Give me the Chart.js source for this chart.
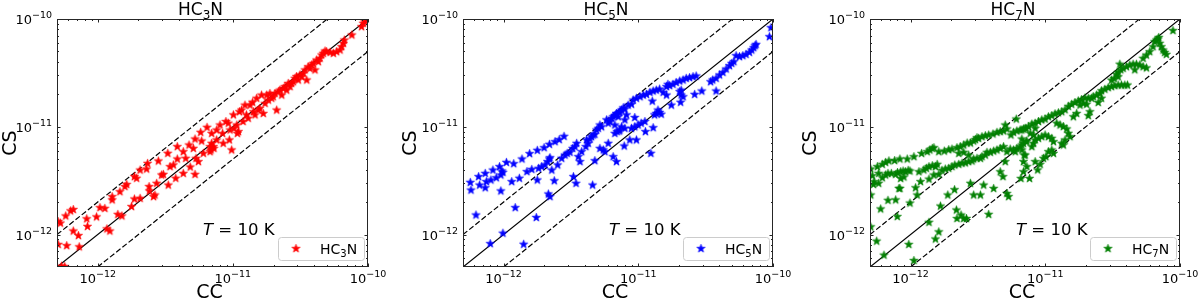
<!DOCTYPE html>
<html>
<head>
<meta charset="utf-8">
<script src="https://cdn.jsdelivr.net/npm/chart.js@4.4.1/dist/chart.umd.min.js"></script>
<style>
  body { margin: 0; background: #fff; }
  #wrap { position: relative; width: 1200px; height: 300px; }
  canvas { position: absolute; top: 0; }
</style>
</head>
<body>
<div id="wrap">
  <canvas id="c1" width="400" height="300" style="left:0px"></canvas>
  <canvas id="c2" width="400" height="300" style="left:400px"></canvas>
  <canvas id="c3" width="400" height="300" style="left:800px"></canvas>
</div>
<script>
// axis range and tick labels (both axes share them)
const AXIS_MIN = 5e-13;
const AXIS_MAX = 1e-10;
const MAJOR_TICKS = [1e-12, 1e-11, 1e-10];
const MAJOR_EXPONENTS = ['\u221212', '\u221211', '\u221210'];

// reference lines: 1:1 and factor-of-two bands
const ONE_TO_ONE = [[5e-13, 5e-13], [1e-10, 1e-10]];
const TWICE = [[5e-13, 1e-12], [5e-11, 1e-10]];
const HALF = [[1e-12, 5e-13], [1e-10, 5e-11]];

// [CC, CS] pairs
const hc3nPoints = [
  [0.51e-12, 1.32e-12], [0.53e-12, 1.28e-12], [0.51e-12, 0.81e-12], [0.57e-12, 0.505e-12], [0.54e-12, 0.51e-12],
  [0.59e-12, 0.79e-12], [0.58e-12, 1.49e-12], [0.63e-12, 1.66e-12], [0.66e-12, 1.71e-12], [0.66e-12, 1.08e-12],
  [0.72e-12, 0.98e-12], [0.73e-12, 0.77e-12], [0.83e-12, 1.40e-12], [0.84e-12, 1.19e-12], [0.98e-12, 1.46e-12],
  [1.04e-12, 1.78e-12], [1.13e-12, 1.75e-12], [1.17e-12, 1.13e-12], [1.23e-12, 1.08e-12], [1.28e-12, 2.25e-12],
  [1.28e-12, 2.10e-12], [1.41e-12, 1.54e-12], [1.51e-12, 1.49e-12], [1.46e-12, 2.50e-12], [1.59e-12, 2.79e-12],
  [1.64e-12, 2.92e-12], [1.78e-12, 1.82e-12], [1.87e-12, 2.14e-12], [1.87e-12, 3.45e-12], [1.94e-12, 3.33e-12],
  [2.06e-12, 2.17e-12], [2.06e-12, 3.97e-12], [2.30e-12, 4.06e-12], [2.34e-12, 4.58e-12], [2.40e-12, 2.79e-12],
  [2.41e-12, 2.54e-12], [2.59e-12, 2.25e-12], [2.65e-12, 2.33e-12], [2.73e-12, 2.99e-12], [2.81e-12, 4.82e-12],
  [2.97e-12, 3.57e-12], [3.06e-12, 3.62e-12], [3.30e-12, 5.68e-12], [3.33e-12, 2.88e-12], [3.43e-12, 4.27e-12],
  [3.63e-12, 4.43e-12], [3.78e-12, 3.33e-12], [3.88e-12, 5.03e-12], [3.88e-12, 6.55e-12], [4.30e-12, 3.70e-12],
  [4.30e-12, 5.88e-12], [4.48e-12, 5.10e-12], [4.74e-12, 6.78e-12], [4.84e-12, 4.24e-12], [5.10e-12, 6.31e-12],
  [5.25e-12, 3.62e-12], [5.34e-12, 5.10e-12], [5.56e-12, 4.75e-12], [5.25e-12, 7.71e-12], [5.78e-12, 8.89e-12],
  [5.88e-12, 7.38e-12], [6.05e-12, 5.68e-12], [6.44e-12, 9.89e-12], [6.78e-12, 6.55e-12], [6.89e-12, 6.10e-12],
  [6.97e-12, 8.69e-12], [7.18e-12, 6.55e-12], [6.97e-12, 7.03e-12], [7.24e-12, 6.31e-12], [6.78e-12, 5.88e-12],
  [7.59e-12, 9.34e-12], [7.59e-12, 7.55e-12], [8.03e-12, 10.4e-12], [8.40e-12, 8.69e-12], [8.49e-12, 7.03e-12],
  [8.89e-12, 11.2e-12], [9.25e-12, 10.8e-12], [9.42e-12, 7.55e-12], [9.53e-12, 9.34e-12], [9.80e-12, 6.10e-12],
  [10.1e-12, 12.9e-12], [10.2e-12, 9.68e-12], [10.7e-12, 10.4e-12], [10.8e-12, 8.69e-12], [11.2e-12, 13.8e-12],
  [11.0e-12, 9.02e-12], [11.6e-12, 14.3e-12], [11.9e-12, 11.2e-12], [12.3e-12, 15.9e-12], [12.6e-12, 12.9e-12],
  [13.0e-12, 12.0e-12], [13.4e-12, 15.9e-12], [14.0e-12, 16.9e-12], [14.2e-12, 13.8e-12], [14.6e-12, 12.9e-12],
  [15.0e-12, 18.4e-12], [15.4e-12, 14.3e-12], [15.8e-12, 14.8e-12], [16.3e-12, 19.7e-12], [16.8e-12, 13.3e-12],
  [17.3e-12, 16.5e-12], [17.8e-12, 19.7e-12], [18.3e-12, 17.7e-12], [18.8e-12, 20.4e-12], [19.4e-12, 18.4e-12],
  [19.9e-12, 19.0e-12], [21.1e-12, 14.3e-12], [20.5e-12, 20.4e-12], [21.7e-12, 21.2e-12], [22.3e-12, 21.9e-12],
  [23.0e-12, 19.7e-12], [23.6e-12, 22.7e-12], [24.3e-12, 23.6e-12], [25.0e-12, 21.9e-12], [25.7e-12, 25.3e-12],
  [26.5e-12, 23.6e-12], [27.2e-12, 25.3e-12], [28.0e-12, 26.2e-12], [28.8e-12, 28.2e-12], [29.6e-12, 29.2e-12],
  [30.5e-12, 27.2e-12], [31.4e-12, 30.3e-12], [32.3e-12, 29.2e-12], [33.2e-12, 31.3e-12], [34.2e-12, 33.7e-12],
  [35.2e-12, 27.2e-12], [36.1e-12, 36.1e-12], [37.2e-12, 34.8e-12], [38.3e-12, 37.5e-12], [39.4e-12, 38.8e-12],
  [40.5e-12, 33.7e-12], [41.7e-12, 41.7e-12], [42.9e-12, 40.2e-12], [44.1e-12, 43.2e-12], [45.4e-12, 46.4e-12],
  [46.7e-12, 48.1e-12], [48.1e-12, 50.5e-12], [49.4e-12, 49.8e-12], [52.4e-12, 49.1e-12], [55.4e-12, 48.1e-12],
  [58.6e-12, 49.8e-12], [62.1e-12, 51.6e-12], [63.8e-12, 55.4e-12], [65.8e-12, 59.5e-12], [66.8e-12, 63.8e-12],
  [75.9e-12, 71.1e-12], [89.6e-12, 84.9e-12], [92.3e-12, 91.2e-12], [94.8e-12, 94.4e-12]
];

const hc5nPoints = [
  [0.566e-12, 3.05e-12], [0.573e-12, 2.59e-12], [0.624e-12, 1.52e-12], [0.653e-12, 3.45e-12], [0.664e-12, 2.88e-12],
  [0.731e-12, 3.70e-12], [0.745e-12, 3.10e-12], [0.731e-12, 2.72e-12], [0.806e-12, 3.21e-12], [0.834e-12, 3.97e-12],
  [0.883e-12, 3.37e-12], [0.934e-12, 4.27e-12], [0.955e-12, 3.57e-12], [0.972e-12, 3.89e-12], [0.989e-12, 3.78e-12],
  [0.955e-12, 2.54e-12], [0.989e-12, 1.03e-12], [0.796e-12, 0.824e-12], [1.05e-12, 4.68e-12], [1.15e-12, 3.10e-12],
  [1.19e-12, 4.55e-12], [1.22e-12, 1.78e-12], [1.31e-12, 3.33e-12], [1.37e-12, 5.03e-12], [1.49e-12, 3.84e-12],
  [1.56e-12, 5.64e-12], [1.62e-12, 4.03e-12], [1.75e-12, 1.44e-12], [1.78e-12, 6.05e-12], [1.78e-12, 3.21e-12],
  [1.82e-12, 4.12e-12], [1.92e-12, 4.27e-12], [2.00e-12, 6.40e-12], [2.03e-12, 4.43e-12], [2.12e-12, 4.75e-12],
  [2.19e-12, 5.03e-12], [2.21e-12, 5.17e-12], [2.15e-12, 2.38e-12], [2.21e-12, 2.25e-12], [2.19e-12, 6.88e-12],
  [2.28e-12, 3.97e-12], [2.38e-12, 3.16e-12], [2.41e-12, 7.28e-12], [2.52e-12, 4.43e-12], [2.59e-12, 7.60e-12],
  [2.81e-12, 8.16e-12], [2.70e-12, 5.10e-12], [2.86e-12, 5.47e-12], [2.97e-12, 5.68e-12], [3.11e-12, 5.80e-12],
  [3.26e-12, 6.31e-12], [3.39e-12, 6.55e-12], [3.49e-12, 7.03e-12], [3.30e-12, 3.45e-12], [3.45e-12, 2.99e-12],
  [3.59e-12, 5.28e-12], [3.69e-12, 4.75e-12], [3.80e-12, 5.88e-12], [4.08e-12, 6.55e-12], [4.25e-12, 7.03e-12],
  [4.38e-12, 7.71e-12], [4.13e-12, 7.55e-12], [4.58e-12, 2.88e-12], [4.50e-12, 8.10e-12], [4.63e-12, 8.39e-12],
  [4.76e-12, 8.51e-12], [4.90e-12, 9.34e-12], [5.05e-12, 9.68e-12], [5.19e-12, 10.4e-12], [5.34e-12, 10.0e-12],
  [4.76e-12, 4.85e-12], [5.19e-12, 6.31e-12], [5.50e-12, 6.10e-12], [5.65e-12, 5.88e-12], [5.81e-12, 11.6e-12],
  [5.98e-12, 10.8e-12], [6.15e-12, 11.2e-12], [6.33e-12, 12.0e-12], [6.51e-12, 12.4e-12], [6.70e-12, 12.7e-12],
  [6.89e-12, 13.1e-12], [7.21e-12, 13.6e-12], [5.98e-12, 7.03e-12], [6.51e-12, 5.28e-12], [6.89e-12, 4.75e-12],
  [6.70e-12, 8.69e-12], [6.97e-12, 9.02e-12], [7.21e-12, 9.14e-12], [1.41e-12, 0.813e-12],
  [6.90e-12, 13.3e-12], [7.10e-12, 12.4e-12], [7.30e-12, 13.8e-12], [7.51e-12, 14.3e-12], [7.95e-12, 14.6e-12],
  [8.18e-12, 12.9e-12], [6.70e-12, 10.4e-12], [7.30e-12, 9.34e-12], [7.51e-12, 10.0e-12], [7.95e-12, 9.68e-12],
  [7.73e-12, 15.0e-12], [8.41e-12, 15.9e-12], [8.90e-12, 16.2e-12], [7.95e-12, 11.6e-12], [8.65e-12, 7.55e-12],
  [7.86e-12, 6.64e-12], [9.69e-12, 7.55e-12], [9.16e-12, 17.7e-12], [9.69e-12, 18.4e-12], [10.3e-12, 19.0e-12],
  [10.9e-12, 19.7e-12], [11.5e-12, 20.0e-12], [12.2e-12, 20.9e-12], [12.9e-12, 21.5e-12], [13.6e-12, 21.9e-12],
  [14.4e-12, 22.4e-12], [8.90e-12, 9.68e-12], [9.42e-12, 10.0e-12], [9.97e-12, 10.4e-12], [10.5e-12, 10.8e-12],
  [11.2e-12, 11.2e-12], [9.42e-12, 12.2e-12], [11.3e-12, 9.02e-12], [12.4e-12, 5.68e-12], [12.7e-12, 17.3e-12],
  [12.9e-12, 9.82e-12], [13.2e-12, 12.9e-12], [13.6e-12, 13.3e-12], [14.0e-12, 14.3e-12], [14.4e-12, 13.6e-12],
  [14.8e-12, 13.1e-12], [15.3e-12, 20.9e-12], [16.2e-12, 23.6e-12], [16.6e-12, 24.8e-12], [17.1e-12, 24.1e-12],
  [18.1e-12, 24.8e-12], [19.1e-12, 25.8e-12], [20.3e-12, 26.6e-12], [21.5e-12, 27.2e-12], [22.7e-12, 28.2e-12],
  [24.0e-12, 28.6e-12], [25.5e-12, 29.2e-12], [26.9e-12, 29.6e-12], [17.6e-12, 15.9e-12], [16.2e-12, 19.7e-12],
  [20.3e-12, 21.2e-12], [20.8e-12, 19.7e-12], [21.5e-12, 19.0e-12], [20.6e-12, 16.9e-12], [20.8e-12, 21.9e-12],
  [26.2e-12, 20.0e-12], [29.6e-12, 21.5e-12], [34.4e-12, 26.2e-12], [35.7e-12, 27.2e-12], [37.8e-12, 28.2e-12],
  [40.1e-12, 30.3e-12], [42.5e-12, 32.0e-12], [44.9e-12, 34.4e-12], [47.5e-12, 36.9e-12], [49.4e-12, 38.8e-12],
  [51.2e-12, 40.2e-12], [37.8e-12, 21.5e-12], [53.2e-12, 45.7e-12], [56.4e-12, 44.8e-12], [59.7e-12, 45.7e-12],
  [63.1e-12, 47.0e-12], [66.8e-12, 49.1e-12], [69.5e-12, 51.6e-12], [71.9e-12, 54.2e-12], [73.6e-12, 56.6e-12],
  [74.8e-12, 58.2e-12], [96.6e-12, 83.1e-12], [94.0e-12, 68.6e-12]
];

const hc7nPoints = [
  [0.506e-12, 4.06e-12], [0.567e-12, 4.27e-12], [0.617e-12, 4.49e-12], [0.653e-12, 4.68e-12], [0.691e-12, 4.83e-12],
  [0.761e-12, 4.86e-12], [0.834e-12, 5.03e-12], [0.945e-12, 5.03e-12], [1.059e-12, 5.28e-12], [1.207e-12, 5.66e-12],
  [1.328e-12, 5.88e-12], [1.39e-12, 6.09e-12], [1.45e-12, 6.31e-12], [1.49e-12, 6.40e-12],
  [0.52e-12, 3.52e-12], [0.53e-12, 2.92e-12], [0.58e-12, 3.70e-12], [0.617e-12, 3.37e-12], [0.653e-12, 3.57e-12],
  [0.68e-12, 3.70e-12], [0.72e-12, 3.70e-12], [0.775e-12, 3.62e-12], [0.80e-12, 3.77e-12], [0.844e-12, 3.83e-12],
  [0.88e-12, 3.89e-12], [0.916e-12, 3.83e-12], [0.96e-12, 3.95e-12], [0.99e-12, 3.89e-12], [0.536e-12, 3.10e-12],
  [0.58e-12, 2.99e-12], [0.844e-12, 3.32e-12], [0.893e-12, 3.42e-12], [0.82e-12, 2.68e-12],
  [1.153e-12, 3.83e-12], [1.255e-12, 3.98e-12], [1.31e-12, 4.12e-12], [1.37e-12, 4.27e-12], [1.45e-12, 4.36e-12],
  [1.53e-12, 4.27e-12], [1.575e-12, 4.49e-12], [1.186e-12, 3.10e-12], [1.37e-12, 3.27e-12], [1.488e-12, 3.57e-12],
  [1.62e-12, 3.62e-12],
  [1.62e-12, 5.88e-12], [1.78e-12, 5.96e-12], [1.92e-12, 6.13e-12], [2.03e-12, 6.22e-12], [2.21e-12, 6.40e-12],
  [2.34e-12, 6.54e-12], [2.48e-12, 6.78e-12], [2.63e-12, 7.08e-12], [2.78e-12, 7.08e-12], [2.94e-12, 7.38e-12],
  [3.03e-12, 7.60e-12], [3.11e-12, 7.93e-12], [3.20e-12, 7.82e-12], [3.39e-12, 8.10e-12], [3.59e-12, 8.27e-12],
  [3.80e-12, 8.40e-12], [4.09e-12, 8.58e-12], [4.38e-12, 8.89e-12], [4.63e-12, 9.02e-12], [4.90e-12, 9.15e-12],
  [5.19e-12, 9.55e-12], [5.56e-12, 8.40e-12], [5.81e-12, 8.89e-12], [6.15e-12, 9.15e-12], [6.51e-12, 9.35e-12],
  [6.89e-12, 9.55e-12], [7.21e-12, 9.69e-12], [5.04e-12, 10.4e-12], [6.09e-12, 11.8e-12],
  [1.71e-12, 3.95e-12], [1.81e-12, 4.06e-12], [1.92e-12, 4.12e-12], [2.03e-12, 4.27e-12], [2.13e-12, 4.42e-12],
  [2.28e-12, 4.49e-12], [2.41e-12, 4.60e-12], [2.55e-12, 4.63e-12], [2.70e-12, 4.75e-12], [2.86e-12, 4.82e-12],
  [2.94e-12, 5.03e-12], [3.11e-12, 5.10e-12], [3.30e-12, 5.10e-12], [3.39e-12, 5.28e-12], [3.59e-12, 5.47e-12],
  [3.69e-12, 5.80e-12], [3.91e-12, 5.80e-12], [4.14e-12, 5.96e-12], [4.38e-12, 6.09e-12], [4.63e-12, 6.31e-12],
  [4.90e-12, 6.54e-12], [5.19e-12, 5.88e-12], [5.49e-12, 6.22e-12], [5.81e-12, 6.09e-12], [6.15e-12, 6.31e-12],
  [6.51e-12, 6.54e-12], [6.70e-12, 6.78e-12], [6.89e-12, 7.03e-12], [7.21e-12, 7.28e-12], [2.48e-12, 5.80e-12],
  [2.70e-12, 5.47e-12], [2.28e-12, 5.67e-12],
  [0.506e-12, 2.33e-12], [0.60e-12, 1.73e-12], [0.68e-12, 2.08e-12], [0.775e-12, 2.10e-12], [0.797e-12, 1.47e-12],
  [0.834e-12, 2.68e-12], [0.99e-12, 1.96e-12], [1.09e-12, 2.72e-12], [1.12e-12, 2.33e-12], [1.667e-12, 1.84e-12],
  [1.89e-12, 2.33e-12], [2.12e-12, 2.61e-12], [2.19e-12, 1.69e-12], [2.21e-12, 1.41e-12], [2.37e-12, 1.52e-12],
  [2.48e-12, 1.41e-12], [2.60e-12, 1.41e-12], [2.78e-12, 2.99e-12], [2.94e-12, 2.33e-12], [3.30e-12, 2.33e-12],
  [3.49e-12, 2.88e-12], [3.80e-12, 1.54e-12], [4.14e-12, 2.68e-12], [4.85e-12, 3.45e-12], [4.63e-12, 3.83e-12],
  [5.04e-12, 4.75e-12], [5.19e-12, 2.41e-12], [5.34e-12, 2.25e-12], [5.98e-12, 5.88e-12], [6.59e-12, 3.32e-12],
  [6.89e-12, 3.83e-12], [6.97e-12, 5.47e-12], [0.506e-12, 1.18e-12], [0.56e-12, 0.87e-12], [0.635e-12, 0.645e-12],
  [0.97e-12, 0.81e-12], [1.059e-12, 0.575e-12], [1.37e-12, 1.30e-12], [1.53e-12, 0.91e-12], [1.62e-12, 1.06e-12],
  [6.70e-12, 9.35e-12], [7.09e-12, 9.69e-12], [7.51e-12, 10.05e-12], [7.95e-12, 10.6e-12], [8.41e-12, 10.8e-12],
  [8.90e-12, 11.2e-12], [9.42e-12, 11.6e-12], [9.97e-12, 11.8e-12], [10.55e-12, 12.4e-12], [11.17e-12, 12.7e-12],
  [11.82e-12, 13.2e-12], [12.51e-12, 13.5e-12], [13.24e-12, 13.8e-12], [14.01e-12, 14.4e-12], [14.83e-12, 15.5e-12],
  [15.70e-12, 16.2e-12], [16.61e-12, 16.8e-12], [17.58e-12, 17.4e-12], [18.61e-12, 17.9e-12], [19.70e-12, 18.5e-12],
  [20.85e-12, 18.4e-12], [22.07e-12, 18.4e-12],
  [6.70e-12, 7.71e-12], [7.30e-12, 7.38e-12], [7.73e-12, 8.70e-12], [8.18e-12, 8.40e-12], [8.41e-12, 9.69e-12],
  [6.70e-12, 6.09e-12], [7.09e-12, 5.47e-12], [6.89e-12, 4.75e-12], [7.30e-12, 4.27e-12], [7.64e-12, 3.32e-12],
  [8.41e-12, 4.75e-12], [8.78e-12, 3.98e-12], [9.16e-12, 4.49e-12], [9.69e-12, 5.10e-12], [10.1e-12, 5.28e-12],
  [10.55e-12, 5.88e-12], [11.17e-12, 6.09e-12], [11.5e-12, 5.67e-12], [7.95e-12, 6.54e-12], [8.18e-12, 7.03e-12],
  [8.41e-12, 7.55e-12], [8.90e-12, 7.82e-12], [9.42e-12, 8.10e-12], [9.97e-12, 8.40e-12], [10.55e-12, 8.10e-12],
  [11.17e-12, 7.82e-12], [11.5e-12, 7.28e-12], [12.16e-12, 10.8e-12], [12.87e-12, 10.4e-12], [13.62e-12, 10.05e-12],
  [14.42e-12, 9.55e-12], [14.83e-12, 8.70e-12], [15.26e-12, 8.10e-12], [14.01e-12, 7.55e-12], [13.62e-12, 6.78e-12],
  [13.24e-12, 7.03e-12], [16.15e-12, 12.4e-12], [17.09e-12, 13.3e-12], [18.09e-12, 15.9e-12], [19.15e-12, 16.5e-12],
  [20.27e-12, 16.2e-12], [20.85e-12, 12.7e-12], [21.45e-12, 13.8e-12],
  [22.71e-12, 19.0e-12], [24.04e-12, 19.7e-12], [25.43e-12, 20.4e-12], [26.16e-12, 21.6e-12], [27.69e-12, 22.3e-12],
  [29.31e-12, 23.1e-12], [31.02e-12, 23.6e-12], [32.84e-12, 24.1e-12], [34.75e-12, 24.4e-12], [36.78e-12, 24.4e-12],
  [38.93e-12, 24.4e-12], [40.74e-12, 24.4e-12], [24.72e-12, 16.8e-12], [26.16e-12, 18.4e-12],
  [31.02e-12, 27.1e-12], [32.46e-12, 28.1e-12], [33.79e-12, 30.7e-12], [34.75e-12, 32.0e-12], [36.36e-12, 33.8e-12],
  [37.83e-12, 34.9e-12], [40.05e-12, 36.1e-12], [42.40e-12, 37.4e-12], [44.87e-12, 38.1e-12], [47.49e-12, 38.1e-12],
  [50.26e-12, 37.4e-12], [53.2e-12, 36.1e-12], [56.3e-12, 35.2e-12], [35.75e-12, 38.1e-12], [34.75e-12, 29.1e-12],
  [46.16e-12, 33.8e-12], [53.2e-12, 43.2e-12], [56.3e-12, 46.3e-12], [59.6e-12, 49.8e-12], [63.1e-12, 55.3e-12],
  [64.89e-12, 61.6e-12], [66.8e-12, 63.8e-12], [68.69e-12, 65.2e-12], [70.7e-12, 59.5e-12], [72.7e-12, 55.3e-12],
  [74.8e-12, 51.5e-12], [76.95e-12, 49.0e-12], [79.2e-12, 47.0e-12], [69.5e-12, 67.5e-12], [88.7e-12, 78.2e-12]
];

const FONT = '"DejaVu Sans", sans-serif';
const INK = '#262626';

// each subplot: species name pieces, colour and where its frame sits in the canvas
const PANELS = [
  { id: 'c1', name: ['HC', '3', 'N'], color: '#ff0000', points: hc3nPoints, yAxisWidth: 57, padRight: 32 },
  { id: 'c2', name: ['HC', '5', 'N'], color: '#0000ff', points: hc5nPoints, yAxisWidth: 63, padRight: 27 },
  { id: 'c3', name: ['HC', '7', 'N'], color: '#008000', points: hc7nPoints, yAxisWidth: 70, padRight: 20 }
];

// filled five-point star like matplotlib's '*'
function starImage(color) {
  const c = document.createElement('canvas');
  c.width = 11; c.height = 11;
  const g = c.getContext('2d');
  g.beginPath();
  for (let i = 0; i < 10; i++) {
    const r = i % 2 === 0 ? 4.4 : 1.8;
    const a = -Math.PI / 2 + i * Math.PI / 5;
    const px = 5.5 + r * Math.cos(a), py = 5.6 + r * Math.sin(a);
    if (i === 0) g.moveTo(px, py); else g.lineTo(px, py);
  }
  g.closePath();
  g.fillStyle = color;
  g.fill();
  g.strokeStyle = color;
  g.lineWidth = 0.6;
  g.stroke();
  return c;
}

// draw pieces of text one after another (for sub/superscripts)
function drawRich(ctx, parts, x, y, align) {
  let w = 0;
  parts.forEach(p => { ctx.font = p.font; w += ctx.measureText(p.text).width; });
  let cx = align === 'center' ? x - w / 2 : align === 'right' ? x - w : x;
  parts.forEach(p => {
    ctx.font = p.font;
    ctx.fillText(p.text, cx, y + (p.dy || 0));
    cx += ctx.measureText(p.text).width;
  });
}

function powerLabel(exp) {
  return [
    { text: '10', font: '13px ' + FONT },
    { text: exp, font: '9.5px ' + FONT, dy: -6 }
  ];
}

function speciesLabel(name, size) {
  return [
    { text: name[0], font: size + 'px ' + FONT },
    { text: name[1], font: Math.round(size * 0.7) + 'px ' + FONT, dy: size * 0.22 },
    { text: name[2], font: size + 'px ' + FONT }
  ];
}

const MINOR_TICKS = [];
[1e-13, 1e-12, 1e-11].forEach(d => {
  for (let m = 2; m <= 9; m++) {
    const v = m * d;
    if (v > AXIS_MIN * 1.001 && v < AXIS_MAX) MINOR_TICKS.push(v);
  }
});

const panelDecor = {
  id: 'panelDecor',
  afterDatasetsDraw(chart, args, opts) {
    const ctx = chart.ctx;
    const a = chart.chartArea;
    const xs = chart.scales.x, ys = chart.scales.y;
    ctx.save();
    ctx.strokeStyle = INK;
    ctx.fillStyle = INK;
    ctx.lineWidth = 1;

    // frame
    ctx.strokeRect(a.left + 0.5, a.top + 0.5, a.right - a.left - 1, a.bottom - a.top - 1);

    // inward ticks on all four sides
    const tick = (v, len) => {
      const px = Math.round(xs.getPixelForValue(v)) + 0.5;
      const py = Math.round(ys.getPixelForValue(v)) + 0.5;
      ctx.beginPath();
      ctx.moveTo(px, a.bottom); ctx.lineTo(px, a.bottom - len);
      ctx.moveTo(px, a.top); ctx.lineTo(px, a.top + len);
      ctx.moveTo(a.left, py); ctx.lineTo(a.left + len, py);
      ctx.moveTo(a.right, py); ctx.lineTo(a.right - len, py);
      ctx.stroke();
    };
    MAJOR_TICKS.forEach(v => tick(v, 3.5));
    MINOR_TICKS.forEach(v => tick(v, 2));

    // tick labels
    ctx.fillStyle = '#000';
    ctx.textAlign = 'left';
    ctx.textBaseline = 'alphabetic';
    MAJOR_TICKS.forEach((v, i) => {
      const px = xs.getPixelForValue(v);
      drawRich(ctx, powerLabel(MAJOR_EXPONENTS[i]), px, a.bottom + 16, 'center');
      const py = ys.getPixelForValue(v);
      drawRich(ctx, powerLabel(MAJOR_EXPONENTS[i]), a.left - 5, py + 5, 'right');
    });

    // axis titles
    ctx.font = '19px ' + FONT;
    ctx.textAlign = 'center';
    ctx.fillText('CC', (a.left + a.right) / 2 - 3, 298);
    ctx.save();
    ctx.translate(16, (a.top + a.bottom) / 2);
    ctx.rotate(-Math.PI / 2);
    ctx.fillText('CS', 0, 0);
    ctx.restore();
    ctx.textAlign = 'left';

    // panel title
    drawRich(ctx, speciesLabel(opts.name, 17), (a.left + a.right) / 2 - 12, 15, 'center');

    // temperature annotation
    drawRich(ctx, [
      { text: 'T', font: 'italic 16.5px ' + FONT },
      { text: ' = 10 K', font: '16.5px ' + FONT }
    ], a.left + 146, a.top + 216, 'left');

    // legend box
    const bx = a.right - 90, by = a.bottom - 30, bw = 86, bh = 23;
    ctx.beginPath();
    ctx.roundRect(bx + 0.5, by + 0.5, bw, bh, 3);
    ctx.fillStyle = 'rgba(255,255,255,0.8)';
    ctx.fill();
    ctx.strokeStyle = '#cccccc';
    ctx.stroke();
    ctx.drawImage(opts.star, bx + 18 - opts.star.width / 2, by + bh / 2 - opts.star.height / 2);
    ctx.fillStyle = '#000';
    drawRich(ctx, speciesLabel(opts.name, 14), bx + 42, by + bh / 2 + 5, 'left');

    ctx.restore();
  }
};

const toXY = pairs => pairs.map(([x, y]) => ({ x, y }));

function refLine(data, dash) {
  return {
    data: toXY(data),
    showLine: true,
    borderColor: '#000',
    borderWidth: 1.2,
    borderDash: dash,
    pointRadius: 0,
    fill: false
  };
}

PANELS.forEach(p => {
  const star = starImage(p.color);
  new Chart(document.getElementById(p.id), {
    type: 'scatter',
    data: {
      datasets: [
        {
          label: p.name.join(''),
          data: toXY(p.points),
          pointStyle: star,
          pointRadius: 4,
          backgroundColor: p.color,
          borderColor: p.color
        },
        refLine(ONE_TO_ONE, []),
        refLine(TWICE, [5.5, 2.4]),
        refLine(HALF, [5.5, 2.4])
      ]
    },
    options: {
      responsive: false,
      animation: false,
      events: [],
      layout: { padding: { top: 19, right: p.padRight, bottom: 0, left: 0 } },
      plugins: {
        legend: { display: false },
        tooltip: { enabled: false },
        panelDecor: { name: p.name, star: star }
      },
      scales: {
        x: {
          type: 'logarithmic',
          min: AXIS_MIN,
          max: AXIS_MAX,
          ticks: { display: false },
          grid: { display: false },
          border: { display: false },
          afterFit(scale) { scale.height = 33; }
        },
        y: {
          type: 'logarithmic',
          min: AXIS_MIN,
          max: AXIS_MAX,
          ticks: { display: false },
          grid: { display: false },
          border: { display: false },
          afterFit(scale) { scale.width = p.yAxisWidth; }
        }
      }
    },
    plugins: [panelDecor]
  });
});
</script>
</body>
</html>
